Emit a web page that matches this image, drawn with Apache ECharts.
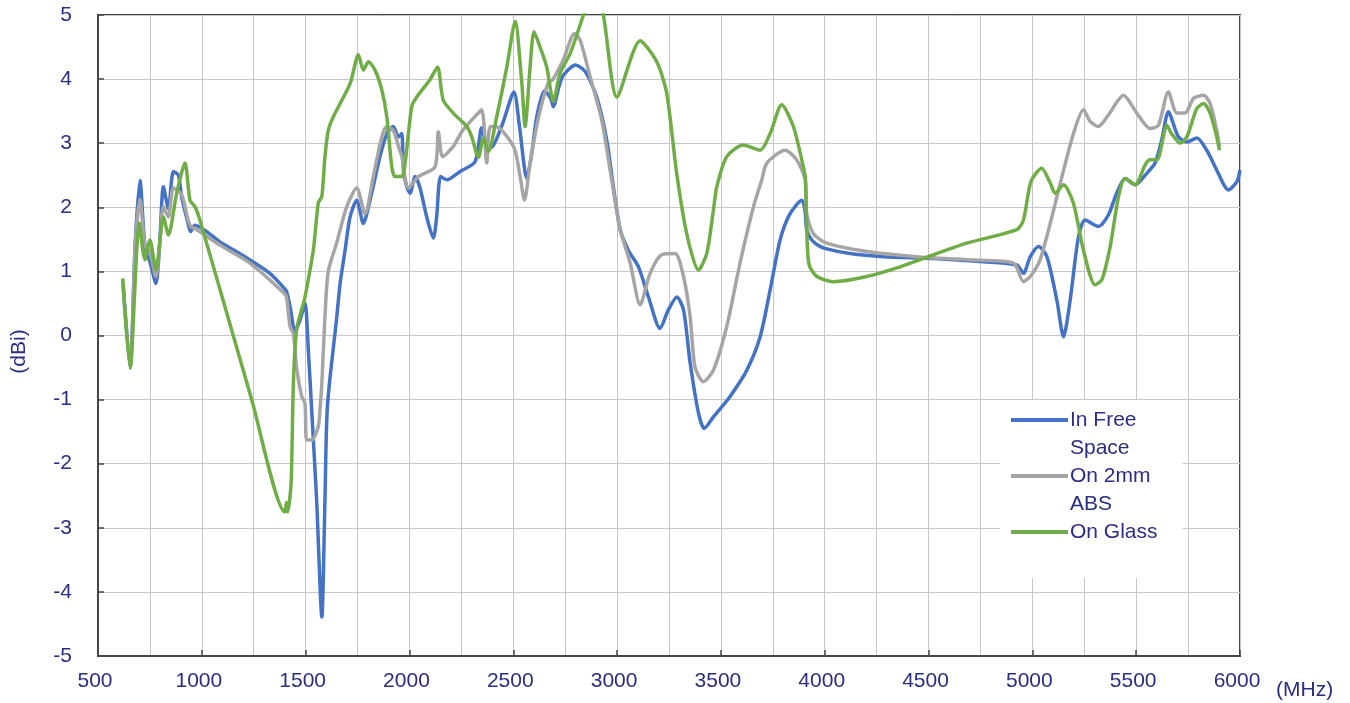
<!DOCTYPE html>
<html><head><meta charset="utf-8">
<script src="https://cdn.jsdelivr.net/npm/echarts@6/dist/echarts.min.js"></script>
<style>html,body{margin:0;padding:0;background:#fff}#c{width:1350px;height:703px}</style>
</head><body><div id="c"></div>
<script>
// ---- data (frequency in MHz, gain in dBi) ----
const xTicks = [500,1000,1500,2000,2500,3000,3500,4000,4500,5000,5500,6000];
const seriesNames = ['In Free Space','On 2mm ABS','On Glass'];
const legendLabels = ['In Free\nSpace','On 2mm\nABS','On Glass\n '];

const freqFree = [620,655,679,702,726,750,779,797,815,839,863,887,903,930,946,967,1088,1232,1328,1399,1409,1425,1449,1473,1497,1513,1529,1553,1578,1593,1605,1650,1666,1690,1714,1746,1778,1810,1858,1891,1922,1947,1963,1971,1987,2003,2027,2051,2083,2115,2131,2150,2180,2244,2316,2348,2364,2392,2448,2503,2530,2565,2589,2613,2650,2680,2693,2720,2741,2800,2846,2902,2950,2982,3015,3054,3103,3151,3207,3247,3288,3320,3352,3392,3420,3464,3544,3625,3689,3737,3785,3833,3890,3905,3913,3935,3962,4000,4122,4283,4524,4764,4925,4957,4990,5030,5070,5118,5150,5182,5222,5254,5318,5366,5406,5447,5495,5551,5591,5623,5655,5703,5744,5792,5840,5888,5944,5985,6000];
const gainFree = [0.85,-0.5,1.43,2.42,1.4,1.15,0.81,1.43,2.32,1.98,2.56,2.5,2.16,1.8,1.62,1.72,1.46,1.18,0.97,0.73,0.68,0.45,0.06,0.24,0.5,-0.23,-1.16,-2.57,-4.39,-2.57,-1.1,0.29,0.81,1.33,1.85,2.11,1.75,2.11,2.79,3.15,3.26,3.1,3.15,2.58,2.32,2.22,2.48,2.3,1.85,1.52,1.85,2.48,2.43,2.56,2.71,3.24,3.05,2.93,3.3,3.8,3.26,2.45,2.84,3.41,3.82,3.7,3.57,3.88,4.06,4.22,4.12,3.72,3.05,2.32,1.65,1.33,1.07,0.6,0.11,0.4,0.6,0.4,-0.43,-1.21,-1.45,-1.27,-0.95,-0.54,-0.02,0.71,1.49,1.9,2.11,1.95,1.65,1.5,1.42,1.36,1.28,1.23,1.2,1.15,1.1,0.97,1.23,1.39,1.23,0.55,-0.02,0.55,1.54,1.8,1.7,1.88,2.22,2.45,2.35,2.53,2.69,3.05,3.49,3.1,3.02,3.08,2.89,2.58,2.27,2.4,2.58];

const freqABS = [620,655,679,702,726,750,779,797,815,839,863,903,930,946,967,1088,1232,1399,1409,1425,1441,1457,1481,1497,1505,1529,1561,1569,1578,1593,1609,1650,1698,1746,1786,1826,1867,1891,1922,1947,1963,1995,2043,2123,2139,2160,2211,2252,2308,2348,2372,2390,2436,2505,2533,2554,2581,2622,2669,2690,2741,2795,2822,2870,2926,2974,3015,3063,3111,3159,3215,3279,3320,3352,3375,3416,3464,3528,3592,3657,3697,3721,3809,3865,3906,3913,3945,4010,4203,4443,4684,4909,4957,4990,5037,5086,5134,5198,5246,5278,5318,5366,5439,5503,5567,5607,5655,5696,5736,5776,5825,5856,5888,5901];
const gainABS = [0.85,-0.5,1.4,2.13,1.4,1.3,0.92,1.4,2.01,1.85,2.3,2.2,1.85,1.7,1.67,1.41,1.13,0.65,0.58,0.14,0.03,-0.52,-0.95,-1.06,-1.63,-1.63,-1.42,-1.16,-0.75,0.29,1.0,1.45,2.01,2.3,1.9,2.48,3.1,3.26,3.2,2.95,2.79,2.3,2.48,2.63,3.18,2.79,2.95,3.18,3.39,3.52,2.69,3.26,3.23,2.92,2.48,2.11,2.69,3.41,3.95,3.99,4.3,4.71,4.61,4.04,3.36,2.43,1.65,1.13,0.48,0.97,1.26,1.28,0.92,0.29,-0.49,-0.72,-0.54,0.14,1.13,2.01,2.43,2.69,2.89,2.74,2.43,1.9,1.59,1.44,1.31,1.23,1.18,1.13,0.84,0.92,1.18,1.75,2.37,3.15,3.52,3.34,3.26,3.44,3.75,3.47,3.23,3.28,3.8,3.47,3.47,3.7,3.75,3.62,3.2,2.95];

const freqGlass = [619,654,699,726,750,779,815,839,879,919,943,967,991,1240,1400,1408,1414,1430,1441,1457,1489,1497,1537,1561,1578,1593,1609,1633,1714,1754,1778,1802,1834,1867,1891,1915,1931,1963,1979,2011,2035,2099,2135,2163,2211,2276,2300,2332,2356,2380,2420,2469,2509,2541,2557,2581,2600,2629,2661,2693,2725,2774,2838,2890,2934,2999,3111,3191,3239,3287,3335,3392,3432,3464,3480,3528,3608,3689,3737,3793,3849,3897,3907,3915,3925,3962,4042,4203,4363,4524,4684,4925,4957,4993,5045,5086,5110,5150,5198,5246,5302,5335,5375,5415,5447,5495,5543,5567,5600,5648,5670,5712,5744,5792,5825,5856,5888,5901];
const gainGlass = [0.89,-0.51,1.75,1.18,1.49,1.02,1.85,1.57,2.22,2.69,2.11,2.01,1.8,-1.0,-2.75,-2.6,-2.75,-2.3,-0.74,0.1,0.5,0.6,1.33,2.07,2.17,2.79,3.2,3.41,3.93,4.38,4.14,4.27,4.14,3.83,3.41,2.63,2.48,2.48,2.69,3.57,3.72,3.99,4.19,3.67,3.47,3.26,3.1,2.78,3.08,2.87,3.41,4.19,4.9,3.94,3.26,4.19,4.74,4.5,4.19,3.65,4.09,4.4,5.0,5.5,5.0,3.72,4.6,4.27,3.78,2.53,1.59,1.02,1.28,1.96,2.32,2.79,2.97,2.89,3.15,3.6,3.26,2.63,2.45,1.5,1.1,0.92,0.84,0.92,1.07,1.26,1.44,1.65,1.8,2.4,2.61,2.38,2.22,2.35,2.06,1.33,0.79,0.87,1.39,2.17,2.45,2.35,2.66,2.74,2.74,3.28,3.15,3.0,3.1,3.54,3.62,3.47,3.1,2.89];

const colors = ['#4472C4','#A5A5A5','#70AD47'];

// ---- build chart ----
function zip(fs, gs){ const out=[]; const n=Math.min(fs.length, gs.length); for(let i=0;i<n;i++) out.push([fs[i], gs[i]]); return out; }
const seriesData = [zip(freqFree,gainFree), zip(freqABS,gainABS), zip(freqGlass,gainGlass)];

const TEXT = '#2b2d80';
const FONT = '"Liberation Sans", Arial, sans-serif';
const GRIDC = '#c6c6c6';
const AXISC = '#454545';

const iconTop = 'path://M0,0h0.1v0.1h-0.1Z M0,12H57V16H0Z M0,55.9h0.1v0.1h-0.1Z';

const chart = echarts.init(document.getElementById('c'), null, {renderer:'canvas'});
chart.setOption({
  animation:false,
  backgroundColor:'#ffffff',
  textStyle:{fontFamily:FONT},
  grid:{left:98,right:110,top:15,bottom:47,show:true,borderColor:AXISC,borderWidth:2,backgroundColor:'rgba(0,0,0,0)'},
  xAxis:{
    type:'value', min:xTicks[0], max:xTicks[xTicks.length-1], interval:500,
    axisLine:{show:true,onZero:false,lineStyle:{color:AXISC,width:2}},
    axisTick:{show:true,inside:true,length:6,lineStyle:{color:AXISC,width:1.5}},
    axisLabel:{color:TEXT,fontSize:21,fontFamily:FONT,margin:15,padding:[0,6,0,0],formatter:function(v){return String(v);}},
    splitLine:{show:true,lineStyle:{color:GRIDC,width:1}},
    minorTick:{show:false,splitNumber:2},
    minorSplitLine:{show:true,lineStyle:{color:GRIDC,width:1}},
    name:'(MHz)', nameLocation:'end', nameGap:36,
    nameTextStyle:{color:TEXT,fontSize:21,fontFamily:FONT,verticalAlign:'top',align:'left',padding:[24,0,0,0]}
  },
  yAxis:{
    type:'value', min:-5, max:5, interval:1,
    axisLine:{show:true,onZero:false,lineStyle:{color:AXISC,width:2}},
    axisTick:{show:true,inside:true,length:6,lineStyle:{color:AXISC,width:1.5}},
    axisLabel:{color:TEXT,fontSize:21,fontFamily:FONT,margin:26,formatter:function(v){return String(v);}},
    splitLine:{show:true,lineStyle:{color:GRIDC,width:1}},
    name:'(dBi)', nameLocation:'middle', nameGap:68, nameRotate:90,
    nameTextStyle:{color:TEXT,fontSize:21,fontFamily:FONT,padding:[0,32,0,0]}
  },
  legend:{
    orient:'vertical', left:1000, top:400,
    padding:[6,25,4,11], itemGap:0,
    itemWidth:57, itemHeight:56,
    backgroundColor:'#ffffff',
    selectedMode:false,
    itemStyle:{borderWidth:0},
    textStyle:{color:TEXT,fontSize:21,fontFamily:FONT,lineHeight:28,padding:[0,0,0,-3]},
    formatter:function(name){ return legendLabels[seriesNames.indexOf(name)]; },
    data:[
      {name:seriesNames[0], icon:iconTop},
      {name:seriesNames[1], icon:iconTop},
      {name:seriesNames[2], icon:iconTop}
    ]
  },
  series: seriesNames.map(function(n,i){
    return {
      name:n, type:'line', data:seriesData[i],
      smooth:0.25,
      showSymbol:false, symbol:'none', clip:true,
      color:colors[i],
      lineStyle:{color:colors[i],width:3.5},
      emphasis:{disabled:true}
    };
  })
});
</script>
</body></html>
